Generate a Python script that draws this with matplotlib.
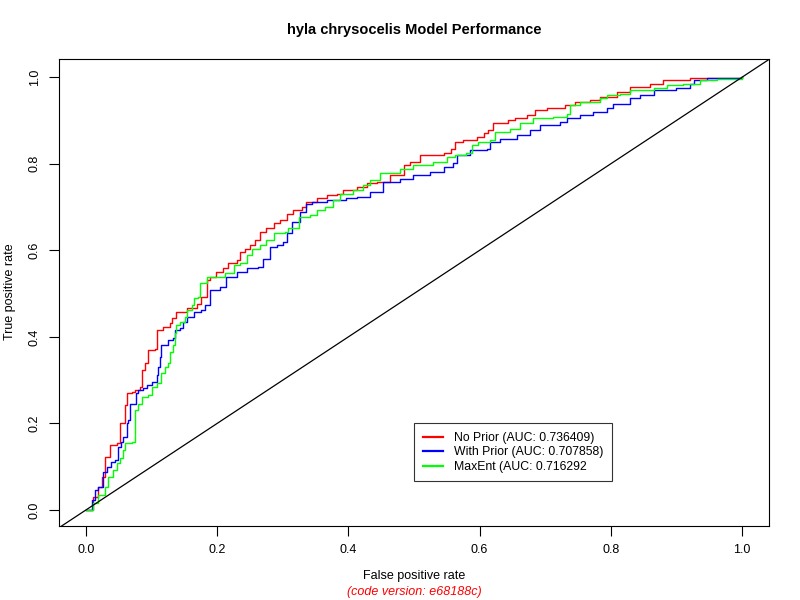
import matplotlib
matplotlib.use("Agg")
import matplotlib.pyplot as plt

plt.rcParams['font.family'] = ['Liberation Sans', 'DejaVu Sans']

title = "hyla chrysocelis Model Performance"
xlabel = "False positive rate"
ylabel = "True positive rate"
subtitle = "(code version: e68188c)"
ticks = [0.0, 0.2, 0.4, 0.6, 0.8, 1.0]
tick_labels = ["0.0", "0.2", "0.4", "0.6", "0.8", "1.0"]

names = ["No Prior (AUC: 0.736409)", "With Prior (AUC: 0.707858)", "MaxEnt (AUC: 0.716292"]
colors = ["#FF0000", "#0000FF", "#00FF00"]

fpr_noprior = [0, 0.011, 0.019, 0.024, 0.029, 0.037, 0.047, 0.052, 0.059, 0.062, 0.070, 0.075, 0.082,
               0.085, 0.090, 0.095, 0.105, 0.108, 0.118, 0.128, 0.131, 0.138, 0.148, 0.154, 0.169,
               0.176, 0.184, 0.189, 0.199, 0.209, 0.217, 0.230, 0.235, 0.242, 0.250, 0.258, 0.265,
               0.275, 0.286, 0.296, 0.306, 0.316, 0.329, 0.336, 0.352, 0.367, 0.382, 0.392, 0.413,
               0.428, 0.443, 0.463, 0.484, 0.494, 0.509, 0.545, 0.557, 0.563, 0.575, 0.596, 0.606,
               0.613, 0.621, 0.644, 0.654, 0.672, 0.684, 0.702, 0.730, 0.745, 0.768, 0.784, 0.809,
               0.829, 0.860, 0.880, 0.921, 1.0]
tpr_noprior = [0, 0.031, 0.054, 0.077, 0.123, 0.150, 0.154, 0.200, 0.242, 0.270, 0.273, 0.277, 0.285,
               0.323, 0.339, 0.370, 0.373, 0.416, 0.423, 0.431, 0.443, 0.458, 0.458, 0.466, 0.477,
               0.493, 0.531, 0.539, 0.550, 0.558, 0.570, 0.577, 0.597, 0.604, 0.612, 0.624, 0.643,
               0.651, 0.662, 0.670, 0.685, 0.693, 0.700, 0.712, 0.720, 0.727, 0.731, 0.739, 0.747,
               0.755, 0.758, 0.774, 0.797, 0.804, 0.820, 0.824, 0.835, 0.851, 0.855, 0.862, 0.870,
               0.878, 0.893, 0.901, 0.905, 0.912, 0.924, 0.928, 0.935, 0.943, 0.947, 0.955, 0.966,
               0.978, 0.985, 0.993, 0.999, 1.0]

fpr_prior = [0, 0.009, 0.014, 0.019, 0.026, 0.032, 0.039, 0.044, 0.049, 0.054, 0.057, 0.062, 0.064,
             0.067, 0.072, 0.077, 0.080, 0.087, 0.093, 0.100, 0.108, 0.110, 0.113, 0.115, 0.125,
             0.133, 0.136, 0.143, 0.148, 0.154, 0.164, 0.176, 0.181, 0.189, 0.204, 0.214, 0.230,
             0.245, 0.263, 0.270, 0.280, 0.291, 0.301, 0.306, 0.314, 0.326, 0.336, 0.344, 0.367,
             0.397, 0.413, 0.433, 0.453, 0.479, 0.499, 0.524, 0.545, 0.560, 0.565, 0.585, 0.611,
             0.616, 0.631, 0.657, 0.677, 0.692, 0.723, 0.733, 0.753, 0.773, 0.794, 0.804, 0.829,
             0.845, 0.865, 0.900, 0.921, 0.926, 0.946, 1.0]
tpr_prior = [0, 0.023, 0.046, 0.054, 0.088, 0.100, 0.112, 0.115, 0.146, 0.158, 0.169, 0.200, 0.208,
             0.246, 0.246, 0.270, 0.277, 0.281, 0.289, 0.296, 0.312, 0.331, 0.354, 0.381, 0.393,
             0.397, 0.416, 0.420, 0.435, 0.446, 0.458, 0.462, 0.473, 0.508, 0.516, 0.539, 0.550,
             0.558, 0.562, 0.581, 0.608, 0.612, 0.620, 0.639, 0.666, 0.689, 0.708, 0.712, 0.716,
             0.720, 0.724, 0.735, 0.758, 0.764, 0.774, 0.781, 0.793, 0.801, 0.820, 0.831, 0.835,
             0.851, 0.858, 0.866, 0.878, 0.889, 0.897, 0.905, 0.912, 0.920, 0.928, 0.939, 0.951,
             0.958, 0.970, 0.974, 0.985, 0.993, 0.998, 1.0]

fpr_maxent = [0, 0.011, 0.019, 0.029, 0.034, 0.042, 0.047, 0.052, 0.057, 0.059, 0.070, 0.075, 0.080,
              0.085, 0.095, 0.100, 0.108, 0.115, 0.120, 0.125, 0.128, 0.133, 0.136, 0.138, 0.143,
              0.151, 0.154, 0.161, 0.164, 0.171, 0.174, 0.184, 0.199, 0.212, 0.225, 0.235, 0.245,
              0.253, 0.265, 0.275, 0.286, 0.303, 0.308, 0.324, 0.341, 0.352, 0.364, 0.377, 0.387,
              0.407, 0.423, 0.433, 0.448, 0.479, 0.499, 0.529, 0.550, 0.563, 0.580, 0.588, 0.598,
              0.616, 0.623, 0.646, 0.662, 0.682, 0.712, 0.733, 0.738, 0.753, 0.784, 0.794, 0.814,
              0.829, 0.865, 0.885, 0.910, 0.936, 0.962, 1.0]
tpr_maxent = [0, 0.015, 0.035, 0.054, 0.077, 0.092, 0.108, 0.119, 0.139, 0.154, 0.158, 0.231, 0.246,
              0.262, 0.266, 0.285, 0.293, 0.316, 0.331, 0.339, 0.366, 0.381, 0.408, 0.427, 0.435,
              0.446, 0.462, 0.473, 0.489, 0.493, 0.524, 0.539, 0.539, 0.547, 0.566, 0.570, 0.589,
              0.604, 0.612, 0.624, 0.639, 0.643, 0.651, 0.677, 0.681, 0.693, 0.700, 0.716, 0.731,
              0.739, 0.751, 0.762, 0.778, 0.789, 0.797, 0.804, 0.816, 0.820, 0.824, 0.843, 0.851,
              0.855, 0.874, 0.881, 0.893, 0.905, 0.908, 0.916, 0.935, 0.943, 0.951, 0.958, 0.962,
              0.970, 0.974, 0.982, 0.985, 0.993, 0.996, 1.0]

fig = plt.figure(figsize=(8, 6), dpi=100)
ax = fig.add_axes([59/800, 1-526/600, 710/800, 467/600])

series = [(fpr_noprior, tpr_noprior), (fpr_prior, tpr_prior), (fpr_maxent, tpr_maxent)]
for (fx, ty), c, n in zip(series, colors, names):
    ax.plot(fx, ty, color=c, lw=1, drawstyle='steps-post', label=n)

ax.axline((0, 0), slope=1, color='black', lw=0.9)

ax.set_xlim(-0.041, 1.041)
ax.set_ylim(-0.037, 1.042)
ax.set_xticks(ticks)
ax.set_xticklabels(tick_labels)
ax.set_yticks(ticks)
ax.set_yticklabels(tick_labels, rotation=90, va='center')
ax.tick_params(direction='out', length=7, width=0.8, labelsize=9, pad=6)
for s in ax.spines.values():
    s.set_linewidth(0.8)

leg = ax.legend(loc='upper left', bbox_to_anchor=(0.5, 0.2), bbox_transform=ax.transData,
                fontsize=8.8, frameon=True, fancybox=False, edgecolor='black',
                handlelength=1.7, handletextpad=0.9, borderaxespad=0, borderpad=0.7,
                labelspacing=0.2)
leg.get_frame().set_linewidth(0.8)
for line in leg.get_lines():
    line.set_linewidth(1.6)

fig.text(414/800, 1-30/600, title, ha='center', va='center', fontsize=10.5, fontweight='bold')
fig.text(414/800, 1-576/600, xlabel, ha='center', va='center', fontsize=9)
fig.text(414/800, 1-592/600, subtitle, ha='center', va='center', fontsize=9, color='red', style='italic')
fig.text(10/800, 1-292/600, ylabel, ha='center', va='center', fontsize=9, rotation=90)

fig.savefig("out.png", dpi=100)
